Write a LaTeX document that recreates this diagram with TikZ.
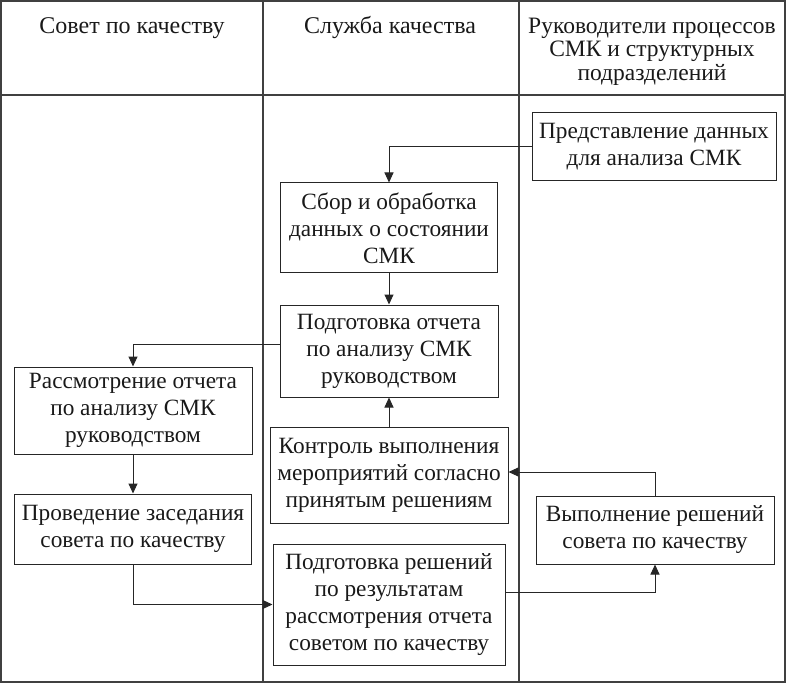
\documentclass[tikz,border=0pt]{standalone}
\usepackage{fontspec}
\setmainfont{Liberation Serif}
\usetikzlibrary{arrows.meta}
\tikzset{
  box/.style={draw=black!85, line width=1pt, align=center, inner sep=2pt,
    font=\fontsize{23.3}{27}\selectfont, text=black!90},
  arr/.style={draw=black!85, line width=1pt, -{Triangle[length=10pt,width=9pt]}},
  frame/.style={draw=black!75, line width=1.2pt},
  head/.style={align=center, inner sep=0pt, font=\fontsize{24}{23}\selectfont, text=black!90}
}
\begin{document}
\begin{tikzpicture}[x=1pt,y=-1pt]
\useasboundingbox (0,0) rectangle (786,684);
% frame
\draw[frame] (1,1) rectangle (785,682);
\draw[frame] (1,95) -- (785,95);
\draw[frame] (263,1) -- (263,682);
\draw[frame] (519,1) -- (519,682);
% headers
\node[head, anchor=base] (h1) at (132,34) {Совет по качеству};
\node[head, anchor=base] (h2) at (390,34) {Служба качества};
\node[head, font=\fontsize{23.5}{23.5}\selectfont] (h3) at (652,51.5) {Руководители процессов\\СМК и структурных\\подразделений};
% boxes
\node[box, minimum width=244pt, minimum height=68pt] (b1) at (654,147) {Представление данных\\для анализа СМК};
\node[box, minimum width=217pt, minimum height=90pt] (b2) at (389,228) {Сбор и обработка\\данных о состоянии\\СМК};
\node[box, minimum width=218pt, minimum height=92pt] (b3) at (389,351) {Подготовка отчета\\по анализу СМК\\руководством};
\node[box, minimum width=238pt, minimum height=87pt] (b4) at (133,410.5) {Рассмотрение отчета\\по анализу СМК\\руководством};
\node[box, minimum width=238pt, minimum height=96pt] (b5) at (389,475) {Контроль выполнения\\мероприятий согласно\\принятым решениям};
\node[box, minimum width=237pt, minimum height=70pt] (b6) at (133,529) {Проведение заседания\\совета по качеству};
\node[box, minimum width=238pt, minimum height=68pt] (b7) at (655,530) {Выполнение решений\\совета по качеству};
\node[box, minimum width=232pt, minimum height=121pt] (b8) at (389,604.5) {Подготовка решений\\по результатам\\рассмотрения отчета\\советом по качеству};
% connectors
\draw[arr] (b1.west) -| (b2.north);
\draw[arr] (b2.south) -- (b3.north);
\draw[arr] ([yshift=7pt]b3.west) -| (b4.north);
\draw[arr] (b4.south) -- (b6.north);
\draw[arr] (b6.south) |- (b8.west);
\draw[arr] ([yshift=12.5pt]b8.east) -| (b7.south);
\draw[arr] (b7.north) |- ([yshift=3pt]b5.east);
\draw[arr] (b5.north) -- (b3.south);
\end{tikzpicture}
\end{document}
